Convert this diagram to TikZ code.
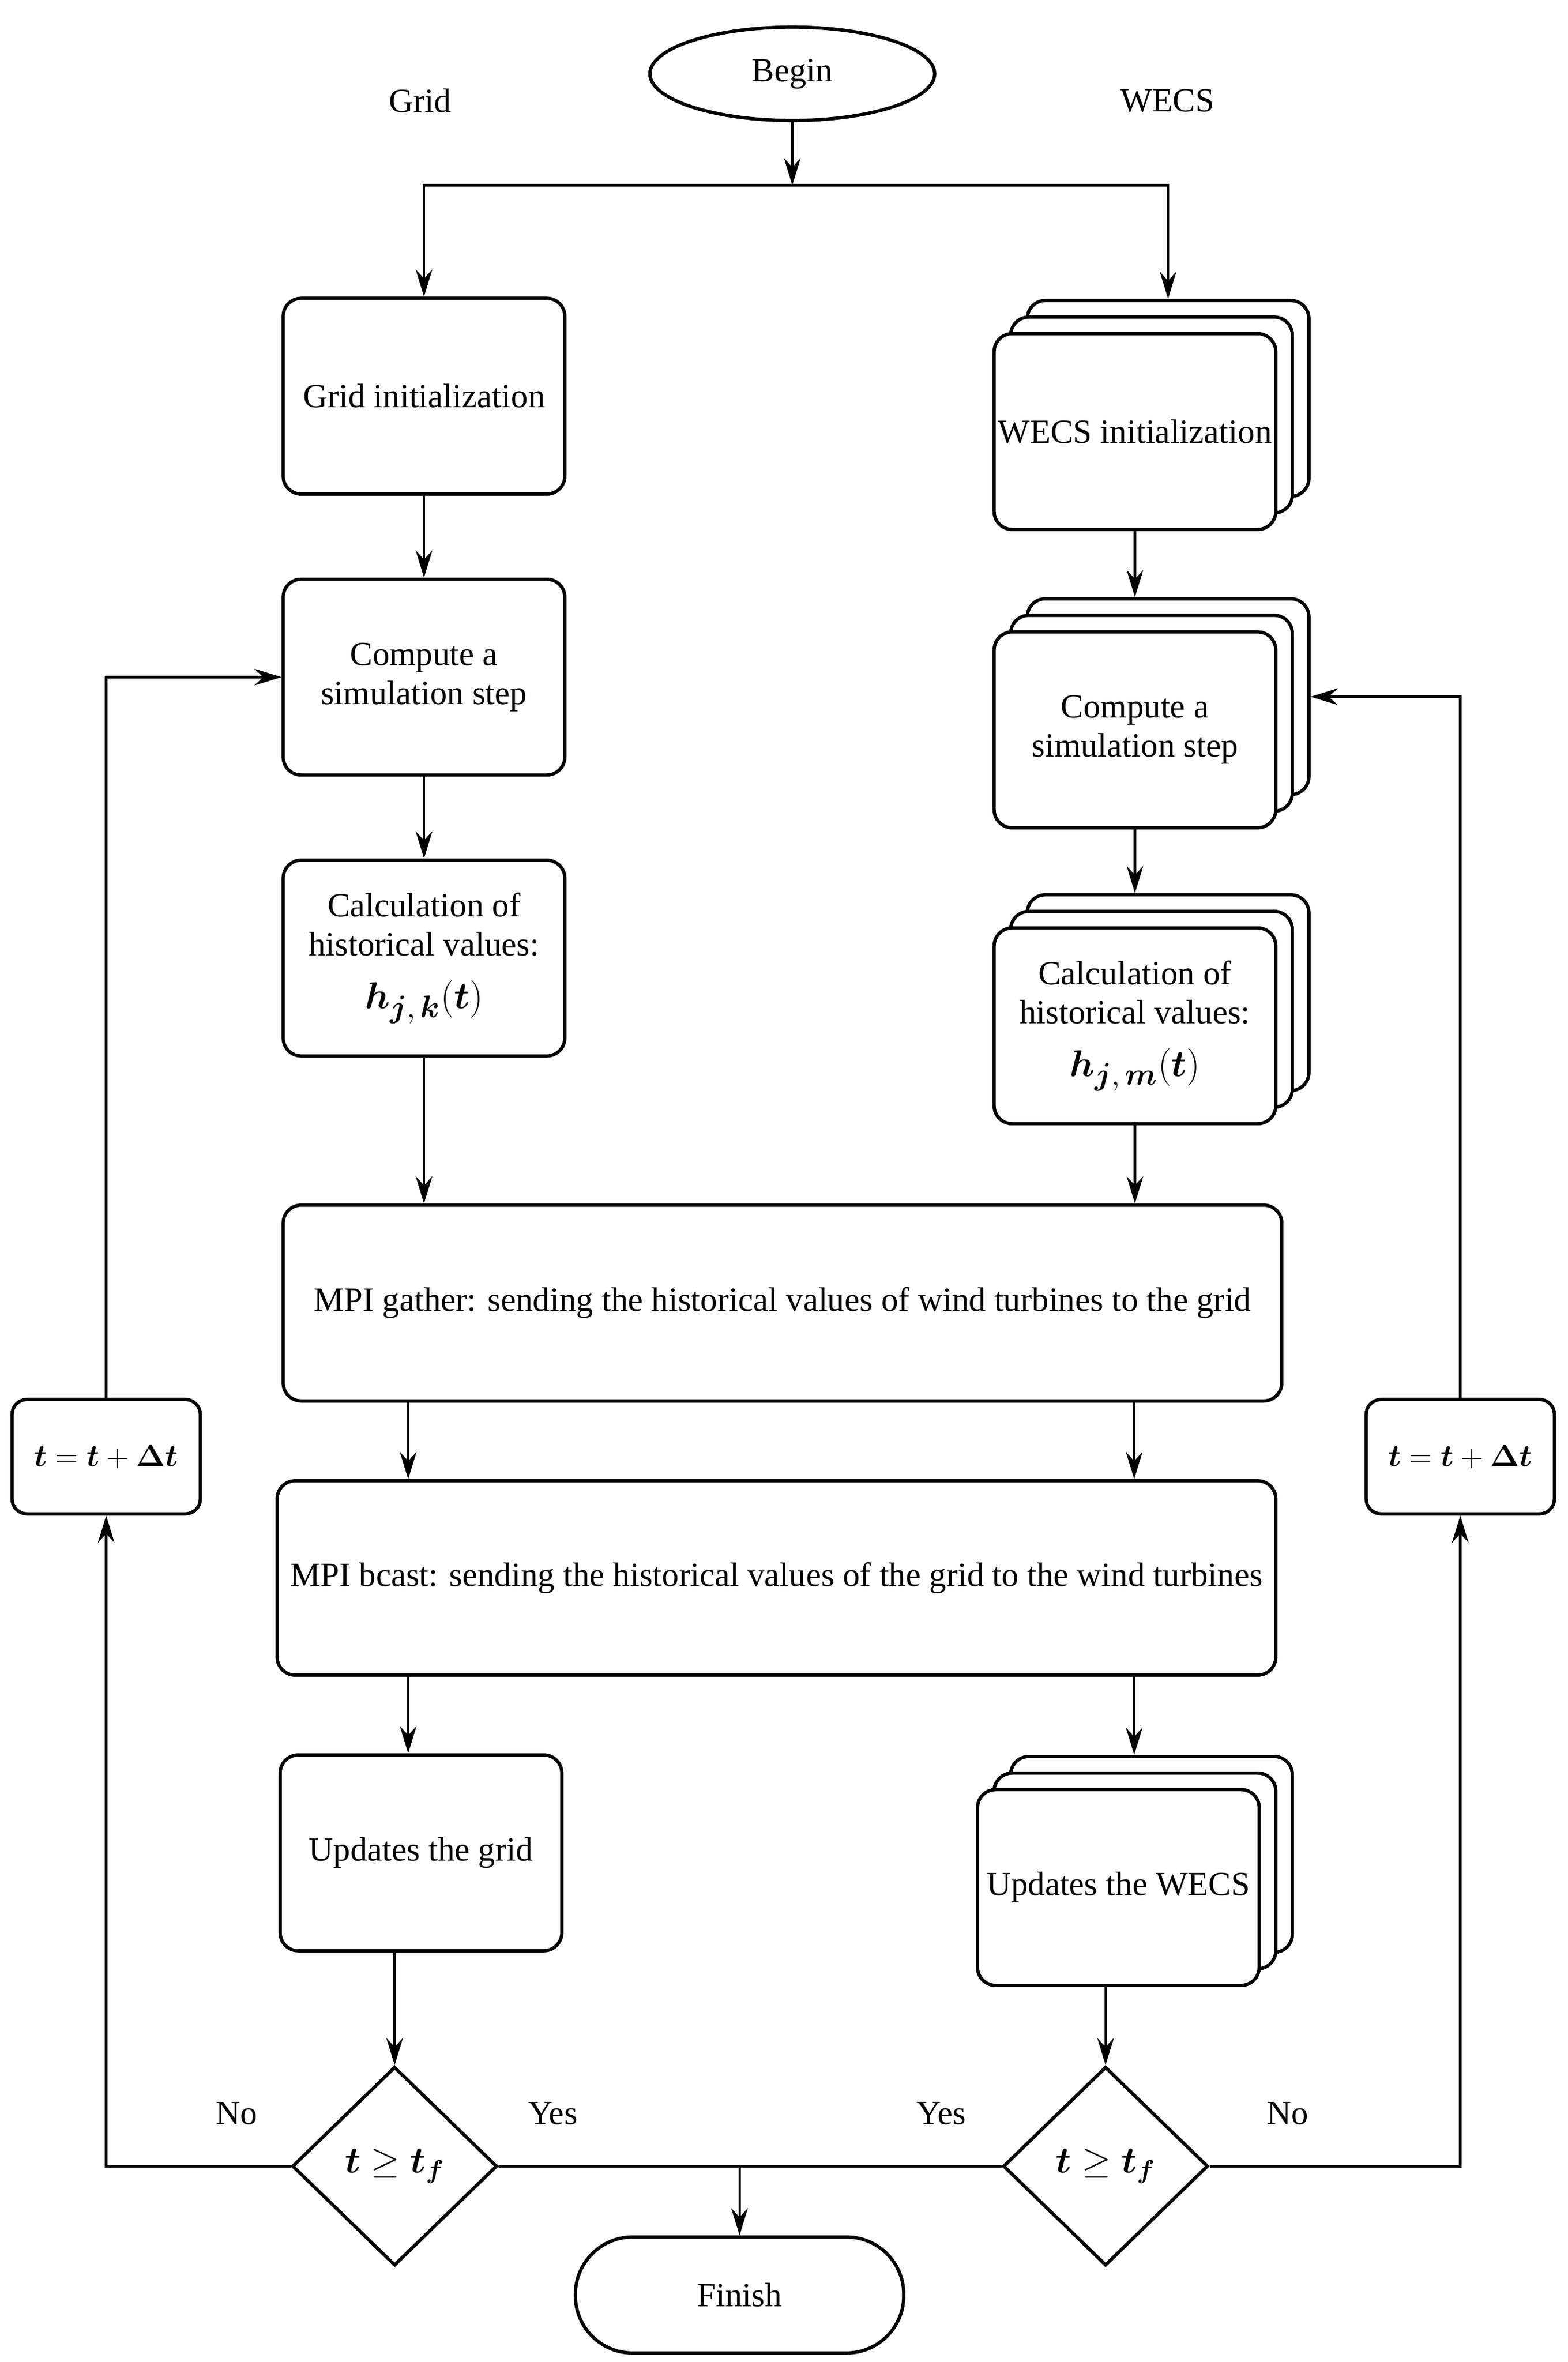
\documentclass[tikz,border=0pt]{standalone}
\usepackage{amssymb}
\usepackage{amsmath}
\usepackage{fontspec}
\setmainfont{Liberation Serif}
\usetikzlibrary{arrows.meta,shapes.geometric,shadows}

\newcommand{\bt}{\boldsymbol{t}}

\begin{document}
\begin{tikzpicture}[x=1pt, y=-1pt,
    every node/.style={font=\fontsize{22.5}{26}\selectfont},
    box/.style={draw, line width=2.2pt, rounded corners=12pt, fill=white, align=center,
        minimum width=187pt, minimum height=130pt, inner sep=2pt},
    stack/.style={box,
        copy shadow={shadow xshift=22pt, shadow yshift=22pt, line width=2.2pt},
        copy shadow={shadow xshift=11pt, shadow yshift=11pt, line width=2.2pt}},
    tbox/.style={draw, line width=2.2pt, rounded corners=10pt, minimum width=125pt,
        minimum height=76pt, inner sep=1pt, font=\fontsize{22}{26}\selectfont},
    cond/.style={draw, diamond, line width=2.2pt, minimum width=136pt, minimum height=132pt,
        inner sep=0pt, font=\fontsize{23.5}{26}\selectfont},
    arr/.style={-{Stealth[length=18pt,width=11pt,inset=6pt]}, line width=1.6pt}]
    \useasboundingbox (0,0) rectangle (1041,1568);

    % Start and column titles
    \node[ellipse, draw, line width=2.2pt, minimum width=189pt, minimum height=62pt] (begin) at (526,49) {Begin};
    \node (gridlab) at (279,67) {Grid};
    \node (wecslab) at (775,67) {WECS};
    \coordinate (split) at (526,123);

    % Grid column
    \node[box] (ginit) at (281.5,263) {Grid initialization};
    \node[box] (gcomp) at (281.5,449.5) {Compute a\\simulation step};
    \node[box] (gcalc) at (281.5,636) {Calculation of\\historical values:\\[9pt]{\fontsize{29}{32}\selectfont $\boldsymbol{h}_{\boldsymbol{j},\,\boldsymbol{k}}(\bt)$}};

    % WECS column (one per wind turbine)
    \node[stack] (winit) at (753.5,286.5) {WECS initialization};
    \node[stack] (wcomp) at (753.5,484.5) {Compute a\\simulation step};
    \node[stack] (wcalc) at (753.5,681) {Calculation of\\historical values:\\[9pt]{\fontsize{29}{32}\selectfont $\boldsymbol{h}_{\boldsymbol{j},\,\boldsymbol{m}}(\bt)$}};

    % MPI exchange
    \node[box, minimum width=663pt] (gather) at (519.5,865) {MPI gather: sending the historical values of wind turbines to the grid};
    \node[box, minimum width=663pt, minimum height=129pt] (bcast) at (515.5,1047.5) {MPI bcast: sending the historical values of the grid to the wind turbines};

    % Updates
    \node[box] (gupd) at (279.5,1230) {Updates the grid};
    \node[stack] (wupd) at (742.5,1253) {Updates the WECS};

    % End conditions
    \node[cond] (gstop) at (262,1438) {$\bt \geq \bt_{\boldsymbol{f}}$};
    \node[cond] (wstop) at (734,1438) {$\bt \geq \bt_{\boldsymbol{f}}$};
    \node[draw, line width=2.2pt, rounded corners=38pt, minimum width=218pt, minimum height=77pt] (finish) at (491,1523.5) {Finish};
    \node (gno) at (157,1403) {No};
    \node (gyes) at (367,1403) {Yes};
    \node (wyes) at (625,1403) {Yes};
    \node (wno) at (855,1403) {No};

    % Time steps
    \node[tbox] (gtime) at (70.5,967) {$\bt = \bt + \boldsymbol{\Delta}\bt$};
    \node[tbox] (wtime) at (969.5,967) {$\bt = \bt + \boldsymbol{\Delta}\bt$};

    % Connectors
    \draw[arr] (begin.south) -- (split);
    \draw[arr] (split) -| (ginit.north);
    \draw[arr] (split) -| ([xshift=22pt, yshift=22pt]winit.north);
    \draw[arr] (ginit) -- (gcomp);
    \draw[arr] (gcomp) -- (gcalc);
    \draw[arr] (gcalc.south) -- (gcalc.south |- gather.north);
    \draw[arr] (winit.south) -- ([yshift=22pt]wcomp.north);
    \draw[arr] (wcomp.south) -- ([yshift=22pt]wcalc.north);
    \draw[arr] (wcalc.south) -- (wcalc.south |- gather.north);
    \draw[arr] (gather.south -| 271,0) -- (bcast.north -| 271,0);
    \draw[arr] (gather.south -| 753,0) -- (bcast.north -| 753,0);
    \draw[arr] (bcast.south -| 271,0) -- (gupd.north -| 271,0);
    \draw[arr] (bcast.south -| 753,0) -- ([yshift=22pt]wupd.north -| 753,0);
    \draw[arr] (gupd.south -| gstop.north) -- (gstop.north);
    \draw[arr] (wupd.south -| wstop.north) -- (wstop.north);

    % Loops back
    \draw[arr] (gstop.west) -| (gtime.south);
    \draw[arr] (gtime.north) |- (gcomp.west);
    \draw[arr] (wstop.east) -| (wtime.south);
    \draw[arr] (wtime.north) |- ([xshift=22pt, yshift=22pt]wcomp.east);

    % Finish
    \draw[line width=1.6pt] (gstop.east) -- (wstop.west);
    \draw[arr] (finish.north |- gstop.east) -- (finish.north);
\end{tikzpicture}
\end{document}
